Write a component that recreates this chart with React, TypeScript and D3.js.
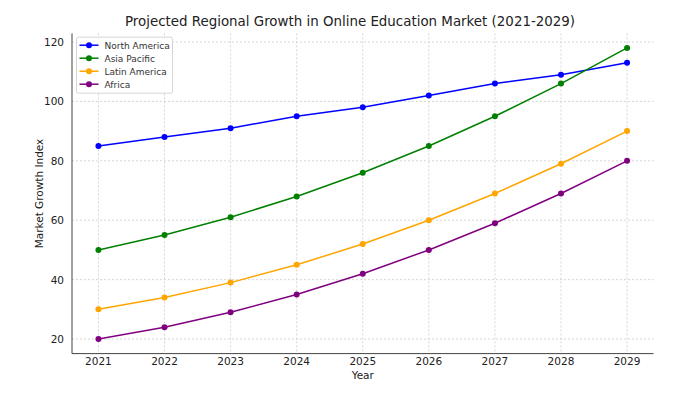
import * as d3 from "d3";

const years = [2021, 2022, 2023, 2024, 2025, 2026, 2027, 2028, 2029];
const northAmerica = [85, 88, 91, 95, 98, 102, 106, 109, 113];
const asiaPacific = [50, 55, 61, 68, 76, 85, 95, 106, 118];
const latinAmerica = [30, 34, 39, 45, 52, 60, 69, 79, 90];
const africa = [20, 24, 29, 35, 42, 50, 59, 69, 80];
const yTicks = [20, 40, 60, 80, 100, 120];

const series = [
  { name: "North America", values: northAmerica, color: "blue" },
  { name: "Asia Pacific", values: asiaPacific, color: "green" },
  { name: "Latin America", values: latinAmerica, color: "orange" },
  { name: "Africa", values: africa, color: "purple" },
];

const W = 700;
const H = 394;
const left = 72;
const right = 653.5;
const top = 33.4;
const bottom = 353.6;
const font = "DejaVu Sans, sans-serif";

export default function App() {
  const x = d3.scaleLinear().domain([2020.6, 2029.4]).range([left, right]);
  const y = d3.scaleLinear().domain([15.1, 122.9]).range([bottom, top]);
  const line = d3
    .line<number>()
    .x((_, i) => x(years[i]))
    .y((d) => y(d));

  return (
    <svg
      width={W}
      height={H}
      style={{ position: "absolute", left: 0, top: 0 }}
      fontFamily={font}
    >
      <rect width={W} height={H} fill="white" />
      <text x={350} y={25.5} textAnchor="middle" fontSize={13.4} fill="#222">
        Projected Regional Growth in Online Education Market (2021-2029)
      </text>

      {/* grid */}
      {years.map((yr) => (
        <line
          key={"gx" + yr}
          x1={x(yr)}
          x2={x(yr)}
          y1={top}
          y2={bottom}
          stroke="#ccc"
          strokeWidth={0.8}
          strokeDasharray="2,2"
        />
      ))}
      {yTicks.map((t) => (
        <line
          key={"gy" + t}
          x1={left}
          x2={right}
          y1={y(t)}
          y2={y(t)}
          stroke="#ccc"
          strokeWidth={0.8}
          strokeDasharray="2,2"
        />
      ))}

      {/* spines */}
      <line x1={left} x2={left} y1={top} y2={bottom} stroke="#444" strokeWidth={1} />
      <line x1={left} x2={right} y1={bottom} y2={bottom} stroke="#444" strokeWidth={1} />

      {/* tick labels */}
      {years.map((yr) => (
        <text key={"tx" + yr} x={x(yr)} y={bottom + 11.5} textAnchor="middle" fontSize={10.5} fill="#222">
          {yr}
        </text>
      ))}
      {yTicks.map((t) => (
        <text key={"ty" + t} x={left - 8} y={y(t) + 4} textAnchor="end" fontSize={10.5} fill="#222">
          {t}
        </text>
      ))}
      <text x={(left + right) / 2} y={bottom + 25.5} textAnchor="middle" fontSize={10.5} fill="#222">
        Year
      </text>
      <text
        transform={`translate(${left - 29},${(top + bottom) / 2}) rotate(-90)`}
        textAnchor="middle"
        fontSize={10.5}
        fill="#222"
      >
        Market Growth Index
      </text>

      {/* series */}
      {series.map((s) => (
        <g key={s.name}>
          <path d={line(s.values) ?? ""} fill="none" stroke={s.color} strokeWidth={1.5} />
          {s.values.map((v, i) => (
            <circle key={i} cx={x(years[i])} cy={y(v)} r={3} fill={s.color} />
          ))}
        </g>
      ))}

      {/* legend */}
      <g transform={`translate(${left + 4.5},${top + 3.8})`}>
        <rect width={96} height={56} rx={2} fill="white" fillOpacity={0.85} stroke="#ccc" strokeWidth={0.8} />
        {series.map((s, i) => (
          <g key={s.name} transform={`translate(3,${8 + i * 13})`}>
            <line x1={0} x2={19} y1={0} y2={0} stroke={s.color} strokeWidth={1.5} />
            <circle cx={9.5} cy={0} r={3} fill={s.color} />
            <text x={25} y={3.3} fontSize={9} fill="#333">
              {s.name}
            </text>
          </g>
        ))}
      </g>
    </svg>
  );
}
